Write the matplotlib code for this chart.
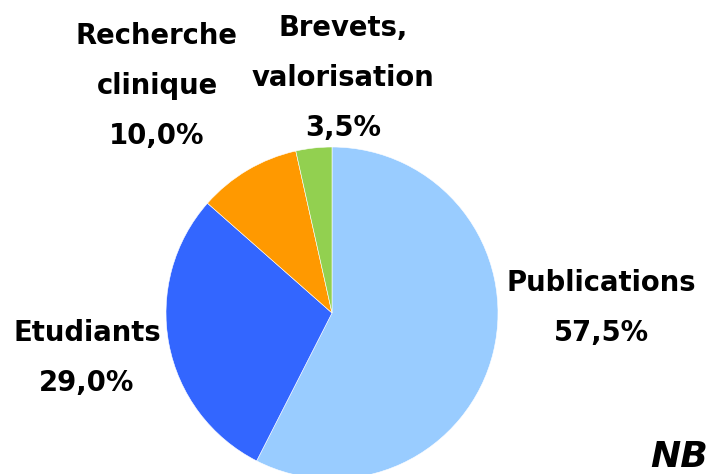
import matplotlib.pyplot as plt

labels = ["Publications", "Etudiants", "Recherche\nclinique", "Brevets,\nvalorisation"]
shares = [57.5, 29.0, 10.0, 3.5]
colors = ["#99CCFF", "#3366FF", "#FF9900", "#92D050"]

# label centres in pixels (x, y from top)
label_pos = [(601, 308), (87, 358), (157, 86), (343, 78)]


def create_plot():
	fig = plt.figure(figsize=(7.06, 4.74), dpi=100)
	ax = fig.add_axes([0, 0, 1, 1])
	ax.axis("off")

	ax.pie(shares, colors=colors, startangle=90, counterclock=False,
		center=(332, 474 - 313), radius=166,
		wedgeprops=dict(edgecolor="white", linewidth=0.4))
	ax.set_xlim(0, 706)
	ax.set_ylim(0, 474)
	ax.set_aspect("equal")

	for name, share, (x, y) in zip(labels, shares, label_pos):
		txt = name + "\n" + ("%.1f%%" % share).replace(".", ",")
		ax.text(x, 474 - y, txt, ha="center", va="center", family="DejaVu Sans",
			fontweight="bold", fontsize=19.8, linespacing=2.0)

	# "NB" is cut by the right edge in the original too
	ax.text(650, 474 - 467, "NB", ha="left", va="baseline", family="DejaVu Sans",
		fontweight="bold", fontstyle="oblique", fontsize=26)

	fig.savefig("out.png", dpi=100)


create_plot()
